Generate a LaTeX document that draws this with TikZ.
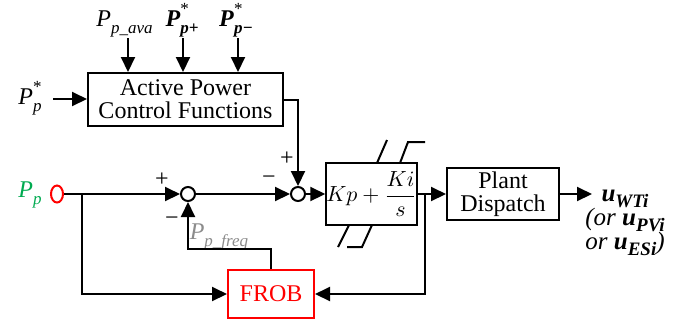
\documentclass[tikz,border=0pt]{standalone}
\usepackage{fontspec}
\setmainfont{Liberation Serif}
\usetikzlibrary{arrows.meta,calc,shapes.geometric}
\definecolor{pgreen}{RGB}{0,170,80}
\definecolor{fgray}{RGB}{140,140,140}
\newcommand{\lsub}[1]{\raisebox{-0.3em}{\fontsize{8.5}{8.5}\selectfont #1}}
\newcommand{\osub}[1]{\raisebox{-0.25em}{\fontsize{9.5}{9.5}\selectfont #1}}
\newcommand{\lsupsub}[2]{\makebox[0pt][l]{\raisebox{0.5em}{\fontsize{8.5}{8.5}\selectfont #1}}\raisebox{-0.3em}{\fontsize{8.5}{8.5}\selectfont #2}}
\begin{document}
\begin{tikzpicture}[x=0.5pt,y=-0.5pt,
  line width=1pt,
  arr/.style={-{Triangle[length=7.5pt,width=7pt]}},
  blk/.style={draw,rectangle,inner sep=0pt,align=center,font=\fontsize{12}{12.5}\selectfont},
  sumj/.style={draw,circle,fill=white,minimum size=7pt,inner sep=0pt},
  lbl/.style={font=\fontsize{12}{14}\selectfont,inner sep=0pt},
  olbl/.style={font=\fontsize{12.5}{14}\selectfont,inner sep=0pt,anchor=base},
  sat/.style={line width=1pt}]
\useasboundingbox (0,0) rectangle (689,323);

% blocks
\node[blk,minimum width=97.5pt,minimum height=26.5pt] (apc) at (185.5,99.5) {Active Power\\[-1pt]Control Functions};
\node[blk,minimum width=43.5pt,minimum height=31pt] (pi) at (371.5,194) {\fontsize{11}{13}\selectfont$\displaystyle Kp+\frac{Ki}{s}$};
\node[blk,minimum width=56pt,minimum height=26pt] (pd) at (503,194) {Plant\\[-1pt]Dispatch};
\node[blk,draw=red,text=red,minimum width=43pt,minimum height=24pt] (frob) at (271,294) {FROB};
\node[sumj] (j1) at (188,194) {};
\node[sumj] (j2) at (298,194) {};
\node[draw=red,ellipse,minimum width=6pt,minimum height=8.5pt,inner sep=0pt] (pp) at (57,194) {};

% labels
\node[lbl,text=pgreen,anchor=base] (pplab) at (30,197) {\textit{P}\lsub{\textit{p}}};
\node[lbl,anchor=base] (pstar) at (30,104) {\textit{P}\lsupsub{*}{\textit{p}}};
\node[lbl,anchor=base] (ava) at (124.5,26) {\textit{P}\lsub{\textit{p\_ava}}};
\node[lbl,anchor=base] (pplus) at (182,26) {\textbf{\textit{P}}\lsupsub{*}{\textbf{\textit{p+}}}};
\node[lbl,anchor=base] (pminus) at (236,26) {\textbf{\textit{P}}\lsupsub{*}{\textbf{\textit{p−}}}};
\node[lbl,text=fgray,anchor=base] (freq) at (219,239) {\textit{P}\lsub{\textit{p\_freq}}};
\node[lbl] (s1) at (162,180) {+};
\node[lbl] (s2) at (172,221) {−};
\node[lbl] (s3) at (269,180) {−};
\node[lbl] (s4) at (287,159) {+};
\node[olbl] (o1) at (625,201) {\textbf{\textit{u}}\osub{\textbf{\textit{WTi}}}};
\node[olbl] (o2) at (625,225) {\textit{(or} \textbf{\textit{u}}\osub{\textbf{\textit{PVi}}}};
\node[olbl] (o3) at (625,249) {\textit{or} \textbf{\textit{u}}\osub{\textbf{\textit{ESi}}}\textit{)}};

% coordinates
\coordinate (i1) at (128,38);
\coordinate (i2) at (183,38);
\coordinate (i3) at (238,38);
\coordinate (i0) at (53,99);
\coordinate (b1) at (82,194);
\coordinate (b2) at (425,194);
\coordinate (out) at (592,194);

% connectors
\draw[arr] (i1) -- (i1 |- apc.north);
\draw[arr] (i2) -- (i2 |- apc.north);
\draw[arr] (i3) -- (i3 |- apc.north);
\draw[arr] (i0) -- (i0 -| apc.west);
\draw[arr] (apc.east) -| (j2.north);
\draw[arr] (pp.east) -- (j1.west);
\draw[arr] (b1) |- (frob.west);
\draw[arr] (frob.north) -- ++(0,-20) -| (j1.south);
\draw[arr] (j1.east) -- (j2.west);
\draw[arr] (j2.east) -- (pi.west);
\draw[arr] (pi.east) -- (pd.west);
\draw[arr] (b2) |- (frob.east);
\draw[arr] (pd.east) -- (out);

% saturation marks
\draw[sat] (377,163) -- (387,140);
\draw[sat] (400,163) -- (408,142) -- (425,142);
\draw[sat] (338,247) -- (349,225);
\draw[sat] (347,247) -- (362,247) -- (372,225);
\end{tikzpicture}
\end{document}
